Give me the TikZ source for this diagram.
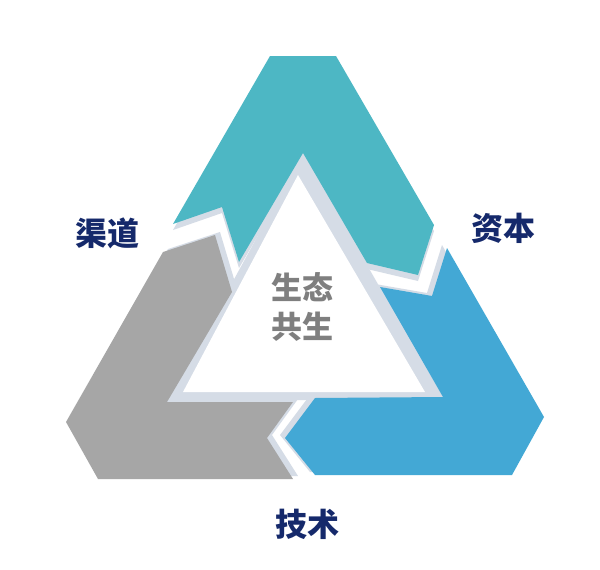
\documentclass[tikz,border=0pt]{standalone}
\usepackage{fontspec}
\newfontfamily\cjk{Noto Sans CJK SC}
\definecolor{tealc}{HTML}{4DB7C4}
\definecolor{bluec}{HTML}{43A8D5}
\definecolor{grayc}{HTML}{A6A6A6}
\definecolor{shadowc}{HTML}{D5DCE6}
\definecolor{navyc}{HTML}{15296B}
\definecolor{midgray}{HTML}{7F7F7F}
\tikzset{
  shd/.style={fill=shadowc, draw=none},
  lbl/.style={font=\cjk\bfseries\fontsize{32}{32}\selectfont, text=navyc, inner sep=0pt},
  ctr/.style={font=\cjk\bfseries\fontsize{31}{39}\selectfont, text=midgray, align=center, inner sep=0pt}
}
\begin{document}
\begin{tikzpicture}[x=1pt,y=-1pt]
\useasboundingbox (0,0) rectangle (600,570);
\fill[white] (0,0) rectangle (600,570);
% central triangle
\fill[shd] (303,153) -- (167,402) -- (443,398) -- cycle;
\fill[white] (298,175) -- (183,392) -- (425,392) -- cycle;
% arrow shapes
\def\teal{(270,56) -- (336,56) -- (434,225) -- (418,275) -- (367,263) -- (303,153) -- (239,262) -- (222,207) -- (173,224) -- cycle}
\def\grayshape{(163,252) -- (215,235) -- (232,292) -- (167,402) -- (293,402) -- (267,438) -- (293,479) -- (98,479) -- (66,422) -- cycle}
\def\blueshape{(380,287) -- (432,296) -- (447,248) -- (544,417) -- (512,475) -- (315,475) -- (285,438) -- (315,398) -- (443,397) -- cycle}
\fill[shd, shift={(0,6)}] \teal;
\fill[shd, shift={(5,-3)}] \grayshape;
\fill[shd, shift={(-5,-3)}] \blueshape;
\fill[tealc] \teal;
\fill[grayc] \grayshape;
\fill[bluec] \blueshape;
% labels
\node[lbl] (qudao) at (107,233) {渠道};
\node[lbl] (ziben) at (503,228) {资本};
\node[lbl] (jishu) at (307,524) {技术};
\node[ctr] (center) at (302,307) {生态\\共生};
\end{tikzpicture}
\end{document}
